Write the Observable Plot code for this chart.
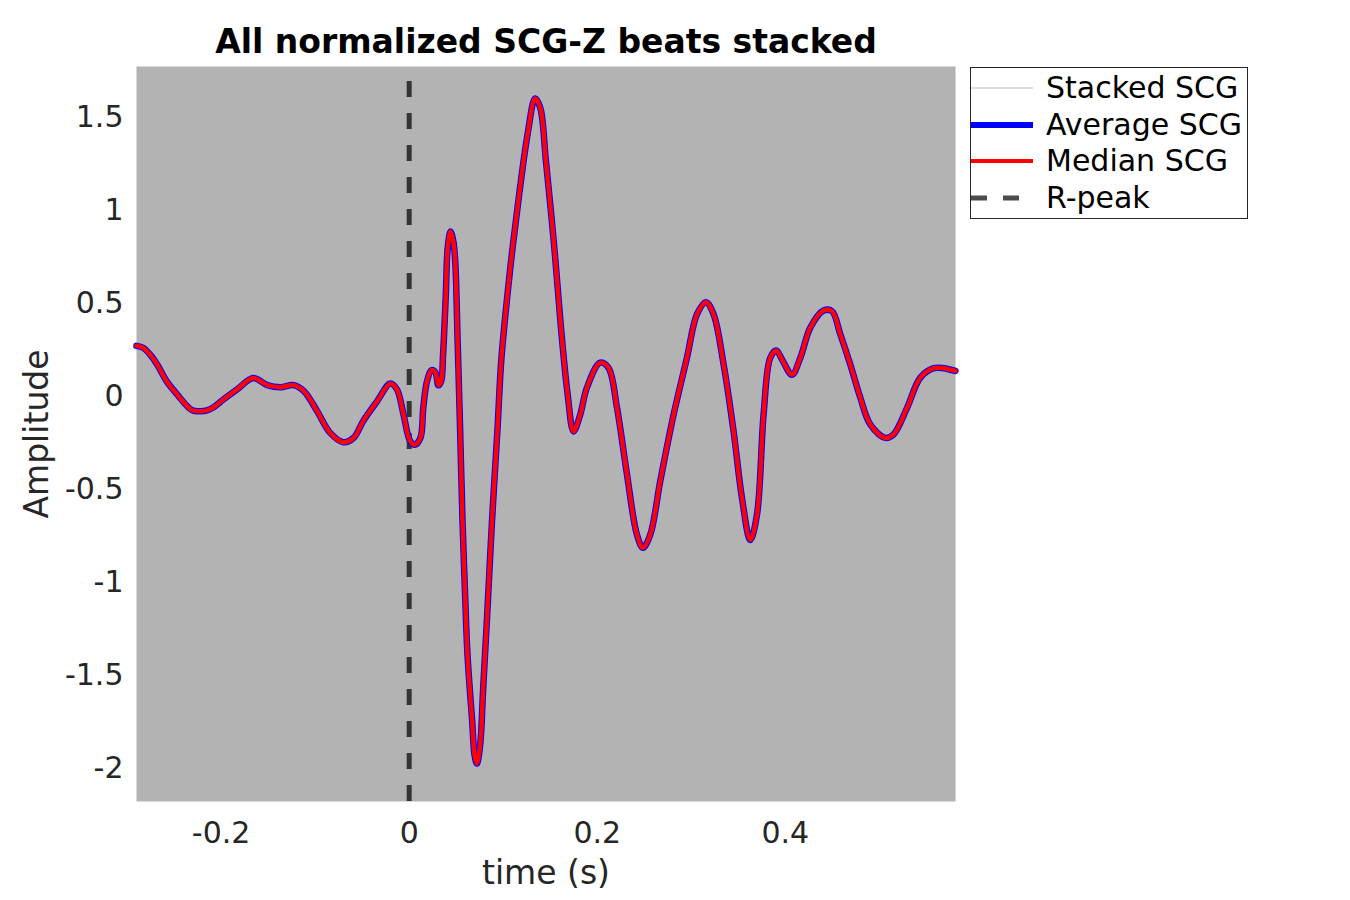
<!DOCTYPE html>
<html>
<head>
<meta charset="utf-8">
<script src="https://cdn.jsdelivr.net/npm/d3@7"></script>
<script src="https://cdn.jsdelivr.net/npm/@observablehq/plot@0.6"></script>
<style>
  body { margin: 0; background: #fff; font-family: "DejaVu Sans", sans-serif; }
  #wrap { position: relative; width: 1350px; height: 900px; overflow: hidden; }
  #wrap svg { position: absolute; left: 0; top: 0; }
  #legend { position: absolute; left: 970px; top: 67px; width: 278px; height: 152px;
            border: 1px solid #262626; background: #fff; box-sizing: border-box; }
  .lrow { position: absolute; left: 0; width: 100%; height: 36px; }
  .lrow svg { position: absolute; left: 6px; top: 0; }
  .lrow span { position: absolute; left: 75px; top: 0; line-height: 36px; font-size: 30px; color: #000; white-space: nowrap; }
</style>
</head>
<body>
<div id="wrap"></div>
<script>
// ---- data ----
const time = [
  -0.290, -0.283, -0.275, -0.268, -0.258, -0.247, -0.231, -0.222, -0.215, -0.208,
  -0.198, -0.183, -0.166, -0.151, -0.137, -0.123, -0.112, -0.098, -0.084, -0.070,
  -0.059, -0.049, -0.034, -0.020, -0.013, -0.006, 0.001, 0.006, 0.012, 0.015,
  0.019, 0.024, 0.028, 0.031, 0.034, 0.036, 0.039, 0.041, 0.044, 0.047,
  0.049, 0.0515, 0.054, 0.0567, 0.0592, 0.062, 0.067, 0.0695, 0.072, 0.0755,
  0.0787, 0.0826, 0.0881, 0.094, 0.0979, 0.1046, 0.110, 0.117, 0.126, 0.134,
  0.1394, 0.1454, 0.1543, 0.1614, 0.1685, 0.1748, 0.1819, 0.189, 0.2032, 0.212,
  0.221, 0.2316, 0.2422, 0.2486, 0.2564, 0.267, 0.2812, 0.2954, 0.3061, 0.3156,
  0.3237, 0.3344, 0.345, 0.3539, 0.3628, 0.3699, 0.3769, 0.384, 0.3904, 0.3965,
  0.4071, 0.416, 0.4266, 0.4407, 0.4497, 0.4585, 0.4691, 0.4798, 0.4904, 0.5064,
  0.5152, 0.5295, 0.5436, 0.5578, 0.5684, 0.5809
];
const averageSCG = [
  0.27, 0.26, 0.22, 0.17, 0.08, 0.01, -0.076, -0.082, -0.077, -0.06,
  -0.02, 0.036, 0.097, 0.059, 0.048, 0.059, 0.027, -0.08, -0.198, -0.248,
  -0.224, -0.135, -0.027, 0.068, 0.036, -0.10, -0.242, -0.262, -0.224, -0.063,
  0.08, 0.14, 0.126, 0.058, 0.08, 0.22, 0.55, 0.80, 0.885, 0.83,
  0.72, 0.30, -0.15, -0.67, -1.03, -1.39, -1.75, -1.93, -1.976, -1.875,
  -1.571, -1.21, -0.67, -0.17, 0.19, 0.55, 0.80, 1.086, 1.41, 1.60,
  1.55, 1.265, 0.80, 0.368, 0.01, -0.19, -0.10, 0.045, 0.18, 0.152,
  -0.063, -0.42, -0.745, -0.816, -0.745, -0.458, -0.10, 0.206, 0.44, 0.505,
  0.44, 0.17, -0.19, -0.548, -0.774, -0.637, -0.10, 0.206, 0.245, 0.197,
  0.115, 0.206, 0.368, 0.46, 0.456, 0.332, 0.17, -0.009, -0.153, -0.225,
  -0.206, -0.063, 0.099, 0.15, 0.150, 0.135
];
const medianSCG = averageSCG.slice();
const stackedSCG = averageSCG.slice();
const rPeak = [0];
const xTicks = [-0.2, 0, 0.2, 0.4];
const yTicks = [-2, -1.5, -1, -0.5, 0, 0.5, 1, 1.5];
const legendLabels = ["Stacked SCG", "Average SCG", "Median SCG", "R-peak"];

const rows = time.map((t, i) => ({ t, avg: averageSCG[i], med: medianSCG[i], stk: stackedSCG[i] }));

const chart = Plot.plot({
  width: 1350,
  height: 900,
  marginLeft: 136,
  marginRight: 395,
  marginTop: 66,
  marginBottom: 99,
  style: { fontFamily: "DejaVu Sans", background: "transparent", overflow: "visible" },
  x: { domain: [-0.29, 0.581] },
  y: { domain: [-2.18, 1.772] },
  marks: [
    Plot.frame({ fill: "#b3b3b3", stroke: null }),
    Plot.axisX({ ticks: xTicks, tickSize: 0, tickPadding: 20, tickFormat: d => String(d),
                 fontSize: 30, color: "#262626", label: null }),
    Plot.axisY({ ticks: yTicks, tickSize: 0, tickPadding: 13, tickFormat: d => String(d),
                 fontSize: 30, color: "#262626", label: null }),
    Plot.line(rows, { x: "t", y: "stk", stroke: "#bdbdbd", strokeWidth: 0.6, curve: "catmull-rom" }),
    Plot.ruleX(rPeak, { stroke: "black", strokeOpacity: 0.7, strokeWidth: 5,
                        strokeDasharray: "16,16", strokeDashoffset: 17 }),
    Plot.line(rows, { x: "t", y: "avg", stroke: "#0000ff", strokeWidth: 6.5, curve: "catmull-rom" }),
    Plot.line(rows, { x: "t", y: "med", stroke: "#ff0000", strokeWidth: 4.5, curve: "catmull-rom" }),
    Plot.text(["All normalized SCG-Z beats stacked"], { frameAnchor: "top", lineAnchor: "middle", dy: -24,
                 fontSize: 33, fontWeight: "bold", fill: "#000" }),
    Plot.text(["time (s)"], { frameAnchor: "bottom", lineAnchor: "middle", dy: 72, fontSize: 33, fill: "#262626" }),
    Plot.text(["Amplitude"], { frameAnchor: "left", textAnchor: "middle", lineAnchor: "middle", dx: -99,
                 rotate: -90, fontSize: 33, fill: "#262626" })
  ]
});
const wrap = document.getElementById("wrap");
wrap.appendChild(chart);

// ---- legend ----
const legend = document.createElement("div");
legend.id = "legend";
const swatches = [
  { stroke: "#bdbdbd", width: 1, dash: null, op: 1 },
  { stroke: "#0000ff", width: 6, dash: null, op: 1 },
  { stroke: "#ff0000", width: 4, dash: null, op: 1 },
  { stroke: "#000000", width: 5, dash: "16,16", op: 0.7 }
];
const centers = [20, 57, 93, 130];
legendLabels.forEach((lab, i) => {
  const r = document.createElement("div");
  r.className = "lrow";
  r.style.top = (centers[i] - 18) + "px";
  const s = swatches[i];
  r.innerHTML = `<svg width="64" height="36"><line x1="0" x2="62" y1="18" y2="18" stroke="${s.stroke}" stroke-width="${s.width}" stroke-opacity="${s.op}" ${s.dash ? `stroke-dasharray="${s.dash}"` : ""}/></svg><span>${lab}</span>`;
  legend.appendChild(r);
});
wrap.appendChild(legend);
</script>
</body>
</html>
